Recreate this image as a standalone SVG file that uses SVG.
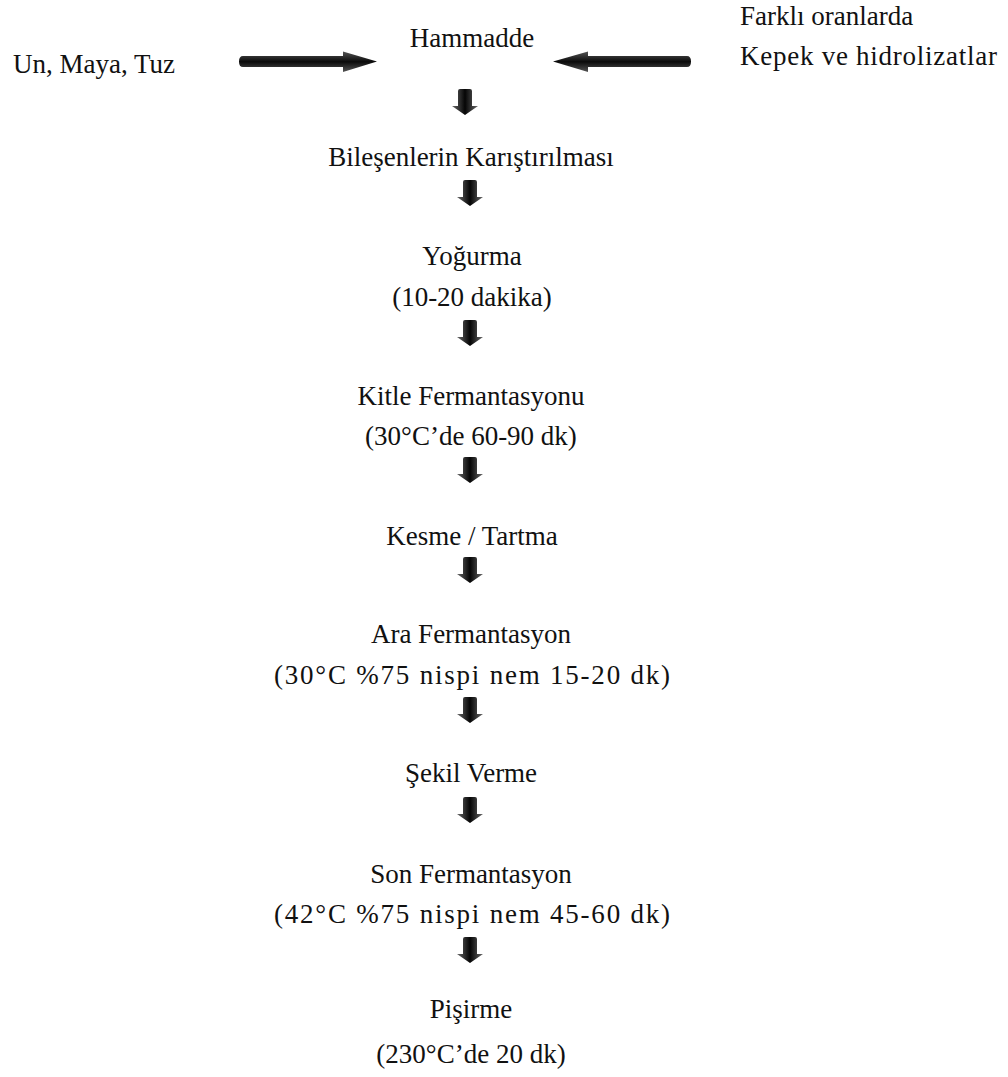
<svg xmlns="http://www.w3.org/2000/svg" width="1008" height="1077" viewBox="0 0 1008 1077">
<style>
text{font-family:'Liberation Serif','DejaVu Serif',serif;font-size:27px;fill:#111}
.c{text-anchor:middle}
</style>
<defs>
<linearGradient id="gv" x1="0" y1="0" x2="1" y2="0">
<stop offset="0" stop-color="#6a6a6a"/><stop offset="0.5" stop-color="#050505"/><stop offset="1" stop-color="#6a6a6a"/>
</linearGradient>
<linearGradient id="gh" x1="0" y1="0" x2="0" y2="1">
<stop offset="0" stop-color="#555"/><stop offset="0.5" stop-color="#0a0a0a"/><stop offset="1" stop-color="#555"/>
</linearGradient>
<path id="down" d="M-7,2 Q-7,0 -5,0 H5 Q7,0 7,2 V17 H13 L0,26 L-13,17 H-7 Z" fill="url(#gv)"/>
</defs>
<rect width="1008" height="1077" fill="#fff"/>
<g id="connectors">
<path id="arrow-left-in" d="M243,56 H343 V51.5 L377,61.5 L343,72 V67 H243 Q239,67 239,61.5 Q239,56 243,56 Z" fill="url(#gh)"/>
<path id="arrow-right-in" d="M687,56 H588 V51.5 L553,61.5 L588,72 V67 H687 Q691,67 691,61.5 Q691,56 687,56 Z" fill="url(#gh)"/>
<use href="#down" x="465" y="89"/>
<use href="#down" x="470" y="180"/>
<use href="#down" x="470" y="320"/>
<use href="#down" x="470" y="457"/>
<use href="#down" x="470" y="557"/>
<use href="#down" x="470" y="697"/>
<use href="#down" x="470" y="797"/>
<use href="#down" x="470" y="937"/>
</g>
<g id="n-unmayatuz"><text x="13" y="73">Un, Maya, Tuz</text></g>
<g id="n-hammadde"><text class="c" x="472" y="47">Hammadde</text></g>
<g id="n-farkli"><text x="740" y="25">Farklı oranlarda</text><text x="740" y="65" textLength="257" lengthAdjust="spacing">Kepek  ve hidrolizatlar</text></g>
<g id="n-karistirma"><text class="c" x="471" y="166">Bileşenlerin Karıştırılması</text></g>
<g id="n-yogurma"><text class="c" x="472" y="265">Yoğurma</text><text class="c" x="472" y="306">(10-20 dakika)</text></g>
<g id="n-kitle"><text class="c" x="471" y="405">Kitle Fermantasyonu</text><text class="c" x="471" y="445">(30°C’de 60-90 dk)</text></g>
<g id="n-kesme"><text class="c" x="472" y="545">Kesme / Tartma</text></g>
<g id="n-ara"><text class="c" x="471" y="643">Ara Fermantasyon</text><text class="c" x="472" y="684" textLength="396" lengthAdjust="spacing">(30°C %75 nispi nem 15-20 dk)</text></g>
<g id="n-sekil"><text class="c" x="471" y="782">Şekil Verme</text></g>
<g id="n-son"><text class="c" x="471" y="883">Son Fermantasyon</text><text class="c" x="472" y="923" textLength="396" lengthAdjust="spacing">(42°C %75 nispi nem 45-60 dk)</text></g>
<g id="n-pisirme"><text class="c" x="471" y="1018">Pişirme</text><text class="c" x="471" y="1063">(230°C’de 20 dk)</text></g>
</svg>
